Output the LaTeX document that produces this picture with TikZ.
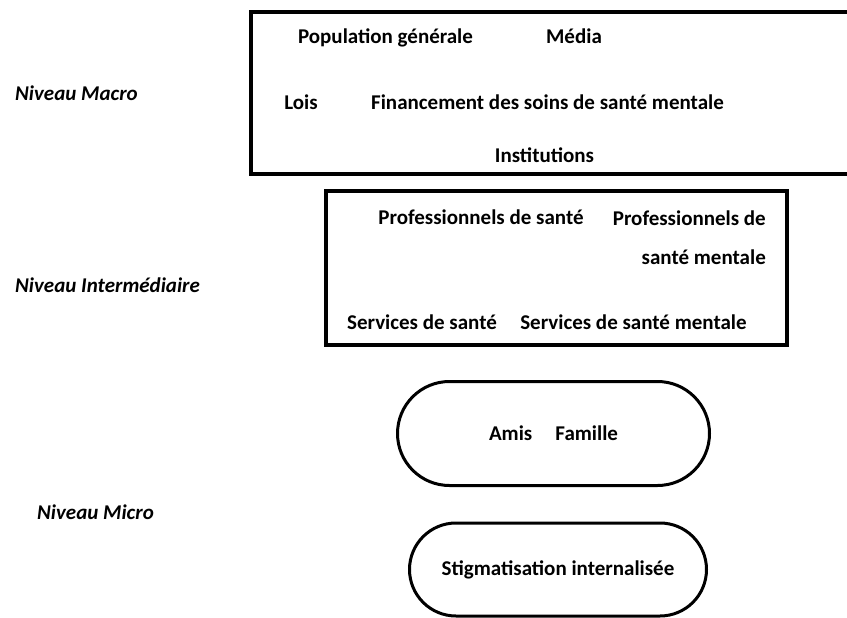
\documentclass[tikz,border=0pt]{standalone}
\usepackage{fontspec}
\setmainfont{Carlito}
\usetikzlibrary{shapes.misc}
\tikzset{
	lbl/.style={font=\bfseries\fontsize{21}{25}\selectfont, inner sep=0pt},
	niveau/.style={lbl, font=\bfseries\itshape\fontsize{21}{25}\selectfont, anchor=base west},
	cadre/.style={draw=black, line width=3.5pt},
	pilule/.style={draw=black, line width=3pt, rounded rectangle, inner sep=0pt}
}

\begin{document}
\begin{tikzpicture}[x=1pt, y=-1pt]
			%%%%% START %%%%%
			
			\useasboundingbox (0, 0) rectangle (847, 618);
			\clip (0, 0) rectangle (847, 618);
			\fill[white] (0, 0) rectangle (847, 618);
			
			% niveau macro
			\draw[cadre] (251, 12) rectangle (880, 174);
			\node[lbl, anchor=base] (pop) at (385.5, 44) {Population générale};
			\node[lbl, anchor=base] (media) at (574, 44) {Média};
			\node[lbl, anchor=base] (lois) at (301, 110) {Lois};
			\node[lbl, anchor=base] (fin) at (547.5, 110) {Financement des soins de santé mentale};
			\node[lbl, anchor=base] (inst) at (544.5, 162) {Institutions};
			
			% niveau intermediaire
			\draw[cadre] (326, 191) rectangle (787, 345);
			\node[lbl, anchor=base] (prof) at (481, 224) {Professionnels de santé};
			\node[lbl, anchor=base east, align=right] (profm) at (766, 264) {Professionnels de\\[14pt]santé mentale};
			\node[lbl, anchor=base] (serv) at (422, 329) {Services de santé};
			\node[lbl, anchor=base] (servm) at (633.5, 329) {Services de santé mentale};
			
			% niveau micro
			\node[pilule, minimum width=312pt, minimum height=104pt, lbl, draw, line width=3pt] (amis) at (553.5, 433.5) {Amis\hspace{1.1em}Famille};
			\node[pilule, minimum width=297pt, minimum height=93pt, lbl, draw, line width=3pt] (stigma) at (558, 569.5) {Stigmatisation internalisée};
			
			\node[niveau] (macro) at (15, 101) {Niveau Macro};
			\node[niveau] (inter) at (15, 292) {Niveau Intermédiaire};
			\node[niveau] (micro) at (37, 519) {Niveau Micro};
			
			%%%%% END %%%%%
		\end{tikzpicture}
\end{document}
